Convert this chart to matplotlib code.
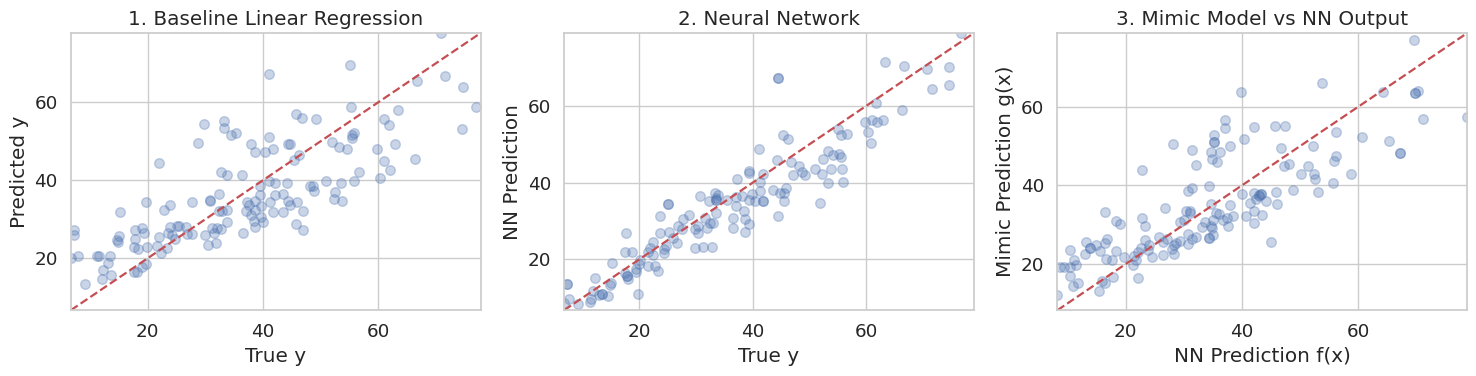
import numpy as np
import matplotlib
matplotlib.use("Agg")
import matplotlib.pyplot as plt
import seaborn as sns

# Panel 1: true y vs linear regression prediction
p1_true = [41.0, 33.3, 33.3, 29.7, 34.4, 35.4, 28.7, 37.9, 38.6, 41.0, 40.3, 41.7, 44.4, 21.9, 32.7, 33.7,
           36.3, 39.4, 41.0, 42.0, 44.2, 39.4, 42.1, 43.5, 41.2, 44.4, 41.7, 43.5, 32.3, 30.8, 30.8, 27.7,
           19.7, 23.8, 22.9, 15.3, 37.3, 37.6, 38.6, 39.6, 37.1, 38.0, 38.6, 39.6, 38.4, 40.0, 38.6, 36.5,
           32.3, 32.9, 33.7, 33.7, 32.0, 32.8, 31.2, 31.5, 29.9, 30.5, 31.9, 25.1, 25.5, 26.6, 23.8, 23.6,
           24.3, 24.8, 26.9, 27.7, 21.9, 21.6, 22.4, 23.3, 19.9, 19.8, 19.0, 18.1, 17.6, 19.1, 19.3, 17.8,
           17.9, 17.6, 18.3, 15.1, 14.7, 14.9, 13.5, 11.3, 11.5, 13.2, 12.2, 12.1, 13.7, 9.2, 8.0, 6.7,
           7.2, 7.2,
           70.8, 55.1, 66.7, 71.6, 74.6, 76.9, 74.4, 55.2, 45.7, 46.8, 49.2, 61.0, 61.9, 63.4, 44.6, 45.4,
           46.3, 52.0, 53.2, 54.5, 55.5, 55.8, 55.4, 59.8, 62.8, 61.0, 62.0, 66.4, 60.3, 56.7, 55.8, 53.5,
           51.0, 48.2, 48.7, 48.9, 52.5, 52.3, 53.7, 45.9, 44.7, 47.0, 45.7, 46.9]
p1_pred = [67.3, 55.3, 53.4, 54.3, 51.7, 52.0, 49.6, 49.2, 47.2, 51.1, 47.3, 47.9, 49.4, 44.3, 42.0, 41.3,
           41.3, 38.6, 39.8, 39.4, 39.4, 36.3, 36.3, 36.4, 34.4, 34.6, 31.8, 31.8, 36.6, 34.9, 34.6, 34.4,
           34.4, 33.6, 32.5, 31.8, 34.4, 33.7, 34.6, 33.4, 32.2, 31.1, 32.3, 30.5, 29.6, 29.4, 27.9, 26.6,
           32.2, 32.2, 32.5, 29.2, 27.7, 27.5, 27.7, 26.6, 26.0, 23.4, 23.9, 28.3, 28.3, 27.9, 27.9, 26.6,
           26.0, 24.9, 26.2, 26.2, 25.4, 23.1, 21.4, 22.6, 22.8, 18.6, 17.7, 16.6, 16.6, 27.7, 26.5, 27.2,
           24.9, 22.8, 22.4, 25.8, 24.7, 24.3, 20.5, 20.7, 20.7, 18.7, 16.9, 14.7, 15.6, 13.4, 20.5, 20.0,
           27.2, 26.0,
           77.7, 69.6, 65.5, 66.8, 64.0, 58.8, 53.0, 58.8, 56.9, 56.0, 55.6, 55.6, 54.2, 57.9, 49.2, 45.1,
           46.4, 49.9, 48.6, 47.9, 50.9, 52.2, 51.5, 47.9, 49.4, 44.8, 42.6, 45.4, 40.5, 42.2, 39.7, 39.2,
           39.7, 38.6, 38.4, 37.3, 37.1, 35.3, 34.8, 34.4, 33.6, 32.1, 28.8, 27.2]

# Panel 2: true y vs neural network prediction
p2_true = [41.1, 37.3, 39.4, 39.4, 41.8, 41.2, 41.2, 39.9, 41.8, 39.4, 40.4, 38.1, 37.1, 37.1, 30.7, 33.4,
           33.5, 33.5, 33.5, 33.9, 32.3, 35.5, 33.6, 33.0, 32.5, 31.6, 31.9, 30.4, 30.3, 29.8, 28.8, 27.7,
           26.8, 27.6, 26.6, 29.8, 31.3, 32.9, 36.5, 36.6, 38.4, 38.6, 38.6, 39.4, 25.1, 25.1, 23.7, 23.7,
           25.3, 26.0, 24.4, 24.3, 24.7, 22.5, 21.9, 21.6, 22.4, 20.1, 19.9, 19.5, 19.4, 21.6, 22.8, 23.4,
           17.6, 17.5, 18.7, 15.2, 17.5, 17.8, 17.8, 18.1, 19.8, 12.2, 14.8, 15.1, 13.5, 13.5, 13.0, 14.5,
           11.9, 11.3, 11.6, 7.3, 7.3, 7.7, 9.2, 6.8,
           76.7, 44.4, 44.4, 63.3, 66.6, 70.7, 74.5, 71.6, 74.5, 61.7, 66.3, 59.7, 61.0, 61.9, 62.9, 60.3,
           60.8, 55.0, 55.5, 56.6, 45.3, 46.2, 44.2, 46.7, 48.1, 47.0, 48.6, 49.1, 50.9, 52.2, 52.3, 53.2,
           54.2, 55.1, 55.6, 53.7, 55.7, 53.2, 55.8, 51.9, 41.8, 43.5, 44.7, 45.8, 45.5, 45.5, 44.4]
p2_pred = [48.8, 41.0, 42.9, 42.6, 42.3, 40.1, 37.9, 37.1, 35.2, 35.6, 35.2, 36.5, 36.2, 34.0, 36.5, 37.3,
           36.0, 35.4, 35.4, 36.7, 35.2, 35.4, 32.1, 29.5, 29.5, 30.8, 28.2, 26.8, 28.7, 28.0, 31.6, 30.6,
           28.7, 27.8, 24.3, 22.9, 23.3, 23.3, 30.8, 28.2, 32.6, 30.4, 27.2, 29.3, 34.5, 34.5, 31.4, 26.8,
           27.2, 25.5, 22.6, 21.7, 23.6, 24.6, 23.0, 21.9, 21.1, 19.8, 18.7, 17.4, 16.7, 18.4, 18.4, 17.0,
           26.9, 22.0, 22.0, 19.1, 16.5, 15.8, 15.8, 14.8, 11.1, 15.2, 13.3, 13.9, 11.1, 11.1, 10.7, 10.6,
           11.8, 9.0, 9.8, 13.5, 13.5, 9.8, 8.3, 8.6,
           78.9, 67.2, 67.2, 71.3, 70.4, 69.5, 70.2, 64.3, 65.5, 60.7, 59.0, 55.8, 56.4, 55.8, 56.4, 53.2,
           50.3, 54.0, 52.3, 52.7, 52.5, 51.3, 46.0, 45.4, 44.4, 42.1, 42.7, 41.9, 43.6, 42.3, 46.2, 48.3,
           47.3, 47.4, 46.7, 43.6, 43.6, 39.9, 40.2, 34.8, 35.2, 38.2, 37.3, 38.6, 37.3, 35.3, 31.4]

# Panel 3: NN prediction f(x) vs mimic prediction g(x)
p3_nn = [39.9, 37.1, 37.1, 35.2, 35.2, 35.2, 34.7, 36.2, 34.9, 35.8, 37.9, 40.3, 42.0, 28.1, 31.5, 32.1,
         22.9, 34.3, 31.5, 30.8, 34.7, 37.9, 26.8, 16.5, 18.4, 19.1, 22.9, 23.3, 29.3, 30.4, 31.0, 31.1,
         30.0, 33.7, 33.2, 34.7, 35.0, 35.5, 36.1, 36.8, 37.6, 37.4, 38.5, 40.0, 42.1, 42.9, 41.4, 40.7,
         42.0, 42.1, 34.3, 34.3, 35.1, 34.9, 30.8, 31.4, 32.1, 30.8, 29.4, 28.3, 28.7, 28.0, 28.3, 27.1,
         26.5, 26.5, 25.7, 24.5, 24.0, 23.8, 23.3, 22.6, 22.1, 21.4, 21.8, 21.2, 22.1, 19.7, 18.3, 17.7,
         16.6, 16.9, 16.5, 15.6, 14.9, 13.9, 13.9, 13.2, 13.1, 15.9, 16.5, 17.8, 15.4, 11.9, 11.0, 10.5,
         10.5, 11.2, 11.5, 10.5, 9.5, 8.8, 8.3,
         69.5, 53.8, 64.3, 69.7, 69.7, 70.2, 71.2, 78.7, 45.7, 47.4, 56.2, 60.7, 65.3, 67.2, 67.2, 46.7,
         52.2, 56.2, 55.8, 58.7, 47.3, 48.1, 51.4, 50.1, 52.4, 52.6, 55.7, 48.8, 53.1, 45.9, 46.1, 43.3,
         43.3, 43.0, 44.1, 43.5, 45.0, 42.4]
p3_mimic = [63.8, 56.5, 54.5, 52.8, 51.1, 51.1, 48.5, 48.5, 46.6, 46.0, 50.1, 51.7, 54.9, 50.6, 49.1, 45.3,
            43.8, 39.9, 39.4, 38.5, 35.4, 35.1, 34.3, 33.2, 31.0, 30.3, 31.7, 29.8, 30.7, 33.4, 33.4, 33.0,
            31.3, 30.6, 29.4, 29.8, 31.1, 33.0, 32.8, 31.1, 29.8, 31.7, 32.3, 37.8, 38.1, 37.5, 35.5, 32.3,
            30.4, 33.4, 26.6, 26.6, 27.5, 29.2, 27.7, 26.5, 27.0, 25.1, 26.0, 24.8, 25.3, 23.9, 22.6, 26.4,
            25.6, 22.2, 26.9, 21.8, 24.9, 23.7, 26.2, 24.1, 23.0, 22.1, 21.1, 19.8, 16.4, 21.8, 23.4, 21.1,
            21.3, 26.4, 25.3, 23.4, 24.9, 24.1, 24.1, 25.6, 22.6, 15.8, 15.2, 16.7, 13.2, 15.2, 14.5, 17.1,
            23.7, 21.1, 19.8, 19.4, 19.2, 19.4, 12.2,
            76.9, 65.9, 63.8, 63.4, 63.4, 64.1, 56.8, 57.4, 55.2, 55.2, 53.6, 52.3, 51.2, 48.3, 48.3, 49.4,
            50.0, 47.6, 46.3, 43.0, 45.0, 45.5, 45.0, 42.8, 42.8, 41.7, 40.6, 38.9, 38.3, 38.3, 35.4, 37.8,
            37.8, 37.2, 36.0, 32.6, 25.6, 36.6]

titles = ["1. Baseline Linear Regression", "2. Neural Network", "3. Mimic Model vs NN Output"]
xlabels = ["True y", "True y", "NN Prediction f(x)"]
ylabels = ["Predicted y", "NN Prediction", "Mimic Prediction g(x)"]

sns.set_theme(style="whitegrid", font_scale=1.2)
fig, axes = plt.subplots(1, 3, figsize=(14.76, 3.76), dpi=100)
fig.subplots_adjust(left=0.048, right=0.994, top=0.912, bottom=0.175, wspace=0.204)

pairs = [(p1_true, p1_pred), (p2_true, p2_pred), (p3_nn, p3_mimic)]
for ax, (xs, ys), t, xl, yl in zip(axes, pairs, titles, xlabels, ylabels):
    xs = np.asarray(xs); ys = np.asarray(ys)
    ax.scatter(xs, ys, alpha=0.3, s=48)
    lo = min(xs.min(), ys.min())
    hi = max(xs.max(), ys.max())
    ax.plot([lo, hi], [lo, hi], 'r--', lw=1.6)
    ax.set_xlim(lo, hi)
    ax.set_ylim(lo, hi)
    ax.set_xticks([20, 40, 60])
    ax.set_yticks([20, 40, 60])
    ax.set_title(t)
    ax.set_xlabel(xl)
    ax.set_ylabel(yl)

fig.savefig("out.png", dpi=100)
